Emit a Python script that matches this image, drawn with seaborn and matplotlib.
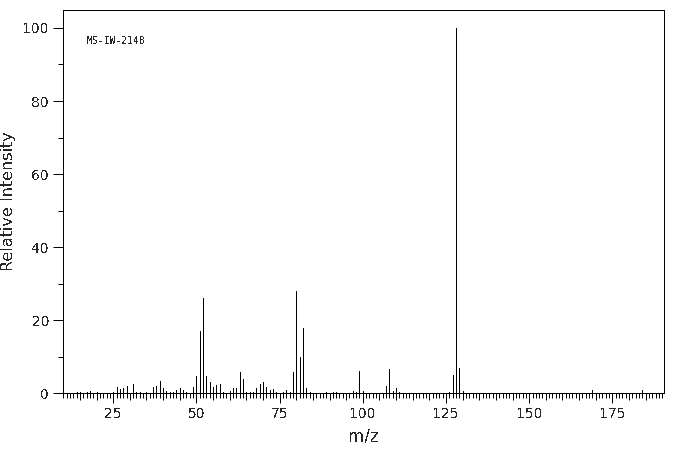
import numpy as np
import pandas as pd
import seaborn as sns
import matplotlib
matplotlib.use("Agg")
import matplotlib.pyplot as plt
from matplotlib.ticker import MultipleLocator

# peaks (m/z, relative intensity %)
mz = [14, 15, 17, 18, 20, 25, 26, 27, 28, 29, 31, 32, 33, 35, 37, 38, 39, 40,
      41, 42, 43, 44, 45, 46, 47, 49, 50, 51, 52, 53, 54, 55, 56, 57, 58, 60,
      61, 62, 63, 64, 65, 66, 67, 68, 69, 70, 71, 72, 73, 74, 76, 77, 78, 79,
      80, 81, 82, 83, 84, 89, 91, 92, 97, 98, 99, 100, 107, 108, 109, 110,
      111, 126, 127, 128, 129, 130, 169, 184]
intensity = [0.4, 0.3, 0.4, 0.6, 0.4, 0.3, 1.7, 1.2, 1.5, 2.0, 2.5, 0.4, 0.4,
             0.4, 1.7, 2.0, 3.3, 1.5, 0.6, 0.4, 0.4, 0.9, 1.4, 0.8, 0.4, 1.7,
             4.6, 17.1, 26.1, 4.7, 3.1, 1.8, 2.3, 2.5, 0.4, 0.6, 1.5, 1.5,
             5.8, 4.0, 0.4, 0.4, 0.4, 1.5, 2.5, 3.2, 1.8, 0.9, 1.3, 0.4, 0.4,
             0.9, 0.4, 5.8, 28.0, 10.0, 18.0, 1.5, 0.4, 0.4, 0.4, 0.4, 0.6,
             0.4, 6.2, 0.6, 2.0, 6.7, 0.6, 1.4, 0.4, 0.3, 5.1, 100.0, 6.9,
             0.5, 1.0, 0.8]
x_ticks = [25, 50, 75, 100, 125, 150, 175]
y_ticks = [0, 20, 40, 60, 80, 100]
spectrum_id = "MS-IW-2148"

# each peak is a stick from 0 up to its intensity
df = pd.DataFrame({
    "peak": np.repeat(np.arange(len(mz)), 2),
    "mz": np.repeat(mz, 2),
    "rel": np.ravel([[0, v] for v in intensity]),
})

sns.set_style("ticks")
plt.rcParams["font.family"] = ["DejaVu Sans"]
plt.rcParams["lines.antialiased"] = False
plt.rcParams["text.antialiased"] = False

px = 0.72  # one pixel in points

fig = plt.figure(figsize=(6.76, 4.55), dpi=100)
ax = fig.add_axes([0.0936, 0.1356, 0.8886, 0.8431])

sns.lineplot(data=df, x="mz", y="rel", units="peak", estimator=None,
             color="black", linewidth=px, ax=ax, legend=False)

ax.set_xlim(10, 190.5)
ax.set_ylim(0, 105)
ax.set_xticks(x_ticks)
ax.set_yticks(y_ticks)
ax.xaxis.set_minor_locator(MultipleLocator(1))
ax.yaxis.set_minor_locator(MultipleLocator(10))
ax.tick_params(axis="both", which="major", length=7.2, width=px,
               color="black", labelsize=10, pad=3)
ax.tick_params(axis="both", which="minor", length=3.6, width=px, color="black")

# medium ticks every 5 units
sec = ax.secondary_xaxis("bottom")
sec.set_xticks([t for t in range(15, 190, 5) if t % 25])
sec.tick_params(length=5, width=px, color="black", labelbottom=False)
sec.spines["bottom"].set_visible(False)

for s in ax.spines.values():
    s.set_visible(True)
    s.set_color("black")
    s.set_linewidth(px)

ax.set_xlabel("m/z", fontsize=12, labelpad=4)
ax.set_ylabel("Relative Intensity", fontsize=11.5, labelpad=5)
ax.text(0.039, 0.918, spectrum_id, transform=ax.transAxes, fontsize=7,
        family="DejaVu Sans Mono", va="center", ha="left")

fig.savefig("out.png", dpi=100)
